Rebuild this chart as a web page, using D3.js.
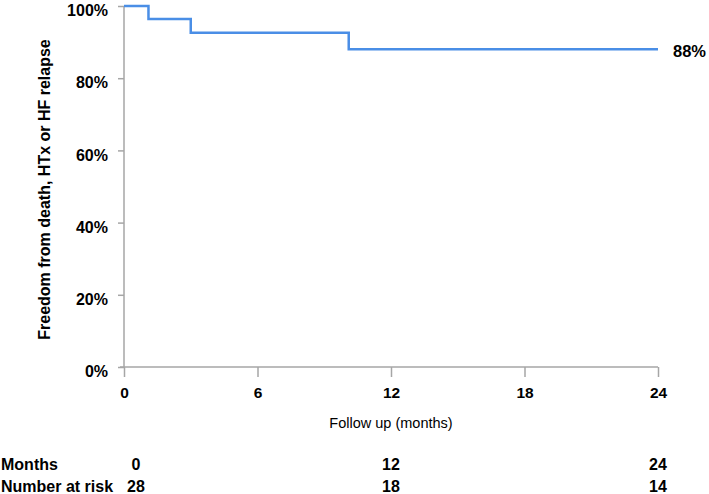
<!DOCTYPE html>
<html>
<head>
<meta charset="utf-8">
<script src="https://cdn.jsdelivr.net/npm/d3@7"></script>
<style>
  body { margin: 0; background: #fff; }
  text { font-family: Arial, "Liberation Sans", sans-serif; }
  .tbl { font-family: "Liberation Sans Narrow", "DejaVu Sans Condensed", "Open Sans", sans-serif; font-weight: bold; font-size: 16px; }
</style>
</head>
<body>
<div id="viz"></div>
<script>
// Kaplan-Meier steps (months, survival fraction)
const stepTimes = [0, 1.1, 3.0, 10.1, 24];
const stepValues = [1.0, 0.964, 0.926, 0.88, 0.88];
const xTicks = [0, 6, 12, 18, 24];
const yTicks = [0, 0.2, 0.4, 0.6, 0.8, 1.0];
const riskMonths = [0, 12, 24];
const riskNumbers = [28, 18, 14];
const endLabel = '88%';

function buildChart(containerId) {
    const width = 709;
    const height = 494;

    const margin = { top: 6, left: 124, right: 51, bottom: 127 };
    const innerWidth = width - margin.left - margin.right;
    const innerHeight = height - margin.top - margin.bottom;

    const svg = d3.select(containerId)
                    .append('svg')
                    .attr('width', width)
                    .attr('height', height);

    const g = svg.append('g')
                .attr('transform', 'translate(' + margin.left + ',' + margin.top + ')');

    const x = d3.scaleLinear().domain([0, 24]).range([0, innerWidth]);
    const y = d3.scaleLinear().domain([0, 1]).range([innerHeight, 0]);

    const axisColor = '#a6a6a6';

    // y axis
    const yAxis = d3.axisLeft(y)
                    .tickValues(yTicks)
                    .tickSize(6)
                    .tickPadding(10)
                    .tickFormat(d3.format('.0%'));
    const yg = g.append('g').call(yAxis);
    yg.select('.domain').remove();
    yg.append('line')
      .attr('x1', 0).attr('x2', 0)
      .attr('y1', y(1)).attr('y2', y(0))
      .attr('stroke', axisColor).attr('stroke-width', 1.5);
    yg.selectAll('.tick line').attr('stroke', axisColor).attr('stroke-width', 1.5);
    yg.selectAll('.tick text')
      .attr('fill', '#000')
      .attr('dy', '0.6em')
      .attr('font-size', 16)
      .attr('font-weight', 'bold')
      .attr('font-family', 'Arial, "Liberation Sans", sans-serif');

    // x axis
    const xAxis = d3.axisBottom(x)
                    .tickValues(xTicks)
                    .tickSize(10)
                    .tickPadding(10);
    const xg = g.append('g')
                .attr('transform', 'translate(0,' + innerHeight + ')')
                .call(xAxis);
    xg.select('.domain').remove();
    xg.append('line')
      .attr('x1', -4).attr('x2', x(24))
      .attr('y1', 0).attr('y2', 0)
      .attr('stroke', axisColor).attr('stroke-width', 1.5);
    xg.selectAll('.tick line').attr('stroke', axisColor).attr('stroke-width', 1.5);
    xg.selectAll('.tick text')
      .attr('fill', '#000')
      .attr('font-size', 15.5)
      .attr('font-weight', 'bold')
      .attr('font-family', 'Arial, "Liberation Sans", sans-serif');

    // step line
    const pts = stepTimes.map((t, i) => [t, stepValues[i]]);
    const line = d3.line()
                   .x(d => x(d[0]))
                   .y(d => y(d[1]))
                   .curve(d3.curveStepAfter);
    g.append('path')
     .datum(pts)
     .attr('fill', 'none')
     .attr('stroke', '#4a8ee6')
     .attr('stroke-width', 2.5)
     .attr('d', line);

    g.append('text')
     .attr('x', x(24) + 15)
     .attr('y', y(stepValues[stepValues.length - 1]) + 3)
     .attr('dominant-baseline', 'middle')
     .attr('font-size', 16.5)
     .attr('font-weight', 'bold')
     .text(endLabel);

    // axis titles
    g.append('text')
     .attr('x', x(12))
     .attr('y', innerHeight + 61)
     .attr('text-anchor', 'middle')
     .attr('font-size', 14.5)
     .text('Follow up (months)');

    g.append('text')
     .attr('transform', 'translate(' + (-74) + ',' + (innerHeight / 2 + 3) + ') rotate(-90)')
     .attr('text-anchor', 'middle')
     .attr('font-size', 16)
     .attr('font-weight', 'bold')
     .text('Freedom from death, HTx or HF relapse');

    // number at risk table
    const t = svg.append('g').attr('class', 'tbl');
    const rowY = [470, 492];
    t.append('text').attr('x', 1).attr('y', rowY[0]).text('Months');
    t.append('text').attr('x', 1).attr('y', rowY[1]).text('Number at risk');
    riskMonths.forEach((m, i) => {
        const px = margin.left + x(m) + (i === 0 ? 12 : 0);
        t.append('text').attr('x', px).attr('y', rowY[0])
         .attr('text-anchor', 'middle').text(m);
        t.append('text').attr('x', px).attr('y', rowY[1])
         .attr('text-anchor', 'middle').text(riskNumbers[i]);
    });
}

buildChart('#viz');
</script>
</body>
</html>
